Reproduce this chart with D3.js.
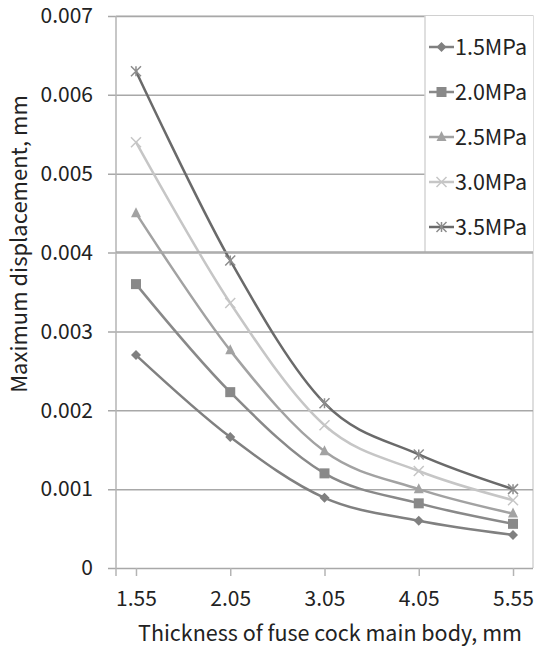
<!DOCTYPE html>
<html>
<head>
<meta charset="utf-8">
<script src="https://cdn.jsdelivr.net/npm/d3@7"></script>
<style>
  body { margin: 0; background: #fff; }
  svg text { font-family: "Noto Sans CJK KR", "Noto Sans", sans-serif; fill: #222; }
</style>
</head>
<body>
<div id="chart"></div>
<script>
const thickness = ['1.55', '2.05', '3.05', '4.05', '5.55'];
const seriesNames = ['1.5MPa', '2.0MPa', '2.5MPa', '3.0MPa', '3.5MPa'];
const p15 = [0.0027, 0.00166, 0.00089, 0.0006, 0.00042];
const p20 = [0.0036, 0.00223, 0.0012, 0.00082, 0.00056];
const p25 = [0.0045, 0.00276, 0.00148, 0.001, 0.00069];
const p30 = [0.0054, 0.00336, 0.00181, 0.00123, 0.00086];
const p35 = [0.0063, 0.0039, 0.00209, 0.00144, 0.001];
const yTicks = [0, 0.001, 0.002, 0.003, 0.004, 0.005, 0.006, 0.007];

const series = [
  { name: seriesNames[0], values: p15, color: '#808080', marker: 'diamond' },
  { name: seriesNames[1], values: p20, color: '#898989', marker: 'square' },
  { name: seriesNames[2], values: p25, color: '#a2a2a2', marker: 'triangle' },
  { name: seriesNames[3], values: p30, color: '#c6c6c6', marker: 'x' },
  { name: seriesNames[4], values: p35, color: '#6a6a6a', marker: 'star' },
];

const W = 544, H = 650;
const plotL = 116, plotR = 533, plotT = 16, plotB = 568;

const svg = d3.select('#chart').append('svg')
  .attr('width', W).attr('height', H);

const x = d3.scalePoint().domain(thickness).range([plotL, plotR]).padding(0.212);
const y = d3.scaleLinear().domain([0, 0.007]).range([plotB, plotT]);

// plot border (top/right)
svg.append('path')
  .attr('d', `M${plotL},${plotT}H${plotR}V${plotB}`)
  .attr('fill', 'none').attr('stroke', '#d4d4d4').attr('stroke-width', 1.5);

// gridlines + y ticks
const yAxis = d3.axisLeft(y).tickValues(yTicks)
  .tickFormat(d => d === 0 ? '0' : d3.format('.3f')(d))
  .tickSize(-(plotR - plotL)).tickPadding(14);
const gy = svg.append('g').attr('transform', `translate(${plotL},0)`).call(yAxis);
gy.select('.domain').remove();
gy.selectAll('.tick line').attr('stroke', '#a8a8a8').attr('stroke-width', 1.5).attr('x1', -8);
gy.selectAll('.tick text').attr('font-size', 21).attr('fill', '#222')
  .attr('font-family', '"Noto Sans CJK KR", sans-serif').attr('x', -23);

// y axis line
svg.append('line').attr('x1', plotL).attr('x2', plotL).attr('y1', plotT).attr('y2', plotB + 8)
  .attr('stroke', '#b4b4b4').attr('stroke-width', 1.5);

// x axis
const xAxis = d3.axisBottom(x).tickSize(8).tickPadding(15);
const gx = svg.append('g').attr('transform', `translate(0,${plotB})`).call(xAxis);
gx.select('.domain').remove();
gx.selectAll('.tick line').attr('stroke', '#b4b4b4').attr('stroke-width', 1.5);
gx.selectAll('.tick text').attr('font-size', 21).attr('fill', '#222')
  .attr('font-family', '"Noto Sans CJK KR", sans-serif');

svg.append('text')
  .attr('x', 330).attr('y', 641).attr('text-anchor', 'middle')
  .attr('font-size', 21.5).text('Thickness of fuse cock main body, mm');

svg.append('text')
  .attr('transform', 'translate(27,244) rotate(-90)')
  .attr('text-anchor', 'middle')
  .attr('font-size', 22).text('Maximum displacement, mm');

const line = d3.line()
  .x((d, i) => x(thickness[i]))
  .y(d => y(d))
  .curve(d3.curveCatmullRom.alpha(0));

function drawMarker(g, type, cx, cy, color) {
  const s = 5;
  if (type === 'diamond') {
    g.append('path').attr('d', `M${cx},${cy - s}L${cx + s},${cy}L${cx},${cy + s}L${cx - s},${cy}Z`).attr('fill', color);
  } else if (type === 'square') {
    g.append('rect').attr('x', cx - s).attr('y', cy - s).attr('width', 2 * s).attr('height', 2 * s).attr('fill', color);
  } else if (type === 'triangle') {
    g.append('path').attr('d', `M${cx},${cy - s - 1}L${cx + s},${cy + s - 1}L${cx - s},${cy + s - 1}Z`).attr('fill', color);
  } else if (type === 'x') {
    g.append('path').attr('d', `M${cx - s},${cy - s}L${cx + s},${cy + s}M${cx + s},${cy - s}L${cx - s},${cy + s}`)
      .attr('stroke', color).attr('stroke-width', 1.5);
  } else if (type === 'star') {
    g.append('path').attr('d', `M${cx - s},${cy - s}L${cx + s},${cy + s}M${cx + s},${cy - s}L${cx - s},${cy + s}M${cx},${cy - s}V${cy + s}`)
      .attr('stroke', '#8c8c8c').attr('stroke-width', 1.5);
  }
}

series.forEach(s => {
  svg.append('path').datum(s.values)
    .attr('d', line).attr('fill', 'none')
    .attr('stroke', s.color).attr('stroke-width', 2.5);
  const g = svg.append('g');
  s.values.forEach((v, i) => drawMarker(g, s.marker, x(thickness[i]), y(v), s.color));
});

// legend
const lg = svg.append('g');
lg.append('rect').attr('x', 425).attr('y', plotT).attr('width', plotR - 425).attr('height', 252 - plotT)
  .attr('fill', '#fff').attr('stroke', 'none');
lg.append('path').attr('d', `M425,${plotT}V252`).attr('stroke', '#d4d4d4').attr('stroke-width', 1.5);
lg.append('path').attr('d', `M${plotL},252H${plotR}`).attr('stroke', '#a8a8a8').attr('stroke-width', 1.5);
series.forEach((s, i) => {
  const ly = 47 + i * 45;
  lg.append('line').attr('x1', 429).attr('x2', 454).attr('y1', ly).attr('y2', ly)
    .attr('stroke', s.color).attr('stroke-width', 2.5);
  drawMarker(lg, s.marker, 441.5, ly, s.color);
  lg.append('text').attr('x', 455).attr('y', ly).attr('dy', '0.36em')
    .attr('font-size', 21.5).text(s.name);
});
</script>
</body>
</html>
